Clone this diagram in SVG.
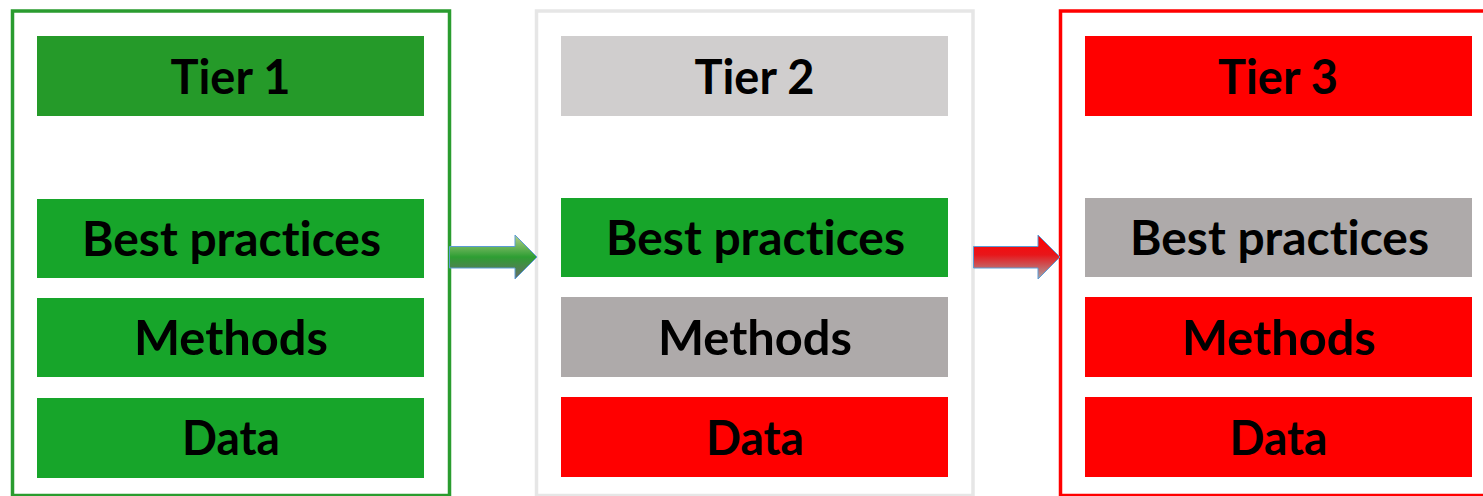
<svg xmlns="http://www.w3.org/2000/svg" width="1483" height="496" viewBox="0 0 1483 496">
<defs>
<style>
.frame{fill:#ffffff;stroke-width:3.5}
.lbl{font-family:Lato,"Open Sans","Liberation Sans",sans-serif;font-weight:bold;font-size:48px;fill:#000000;text-anchor:middle;font-variant-ligatures:none}
.g1{fill:#259A29}
.g{fill:#17A52A}
.gr{fill:#AEAAAA}
.lg{fill:#D0CECE}
.r{fill:#FF0000}
.arrow{stroke:#5B9BD5;stroke-width:1}
</style>
<linearGradient id="gradGreen" x1="0" y1="0" x2="0" y2="1">
<stop offset="0" stop-color="#B5CF8A"/>
<stop offset="0.5" stop-color="#2E9E33"/>
<stop offset="1" stop-color="#6A6A6A"/>
</linearGradient>
<linearGradient id="gradRed" x1="0" y1="0" x2="0" y2="1">
<stop offset="0" stop-color="#FF0000"/>
<stop offset="0.45" stop-color="#E8161A"/>
<stop offset="1" stop-color="#A6A6A6"/>
</linearGradient>
</defs>
<rect width="1483" height="496" fill="#ffffff"/>

<g id="tier1-frame">
<rect class="frame" x="12.5" y="11" width="437" height="484.5" stroke="#2A9C2F"/>
</g>
<g id="tier2-frame">
<rect class="frame" x="536.5" y="11" width="436.5" height="484.5" stroke="#E6E6E6"/>
</g>
<g id="tier3-frame">
<rect class="frame" x="1060.5" y="11" width="440" height="484.5" stroke="#FF0000"/>
</g>

<g id="tier1-title"><rect class="g1" x="37" y="36" width="387" height="80"/><text class="lbl" x="230.5" y="94" textLength="120" lengthAdjust="spacingAndGlyphs">Tier 1</text></g>
<g id="tier1-best"><rect class="g" x="37" y="199" width="387" height="79"/><text class="lbl" x="231.5" y="256" textLength="299" lengthAdjust="spacingAndGlyphs">Best practices</text></g>
<g id="tier1-methods"><rect class="g" x="37" y="298" width="387" height="79"/><text class="lbl" x="231" y="355" textLength="194" lengthAdjust="spacingAndGlyphs">Methods</text></g>
<g id="tier1-data"><rect class="g" x="37" y="398" width="387" height="80"/><text class="lbl" x="231" y="455" textLength="98" lengthAdjust="spacingAndGlyphs">Data</text></g>

<g id="tier2-title"><rect class="lg" x="561" y="36" width="387" height="80"/><text class="lbl" x="754.5" y="94" textLength="120" lengthAdjust="spacingAndGlyphs">Tier 2</text></g>
<g id="tier2-best"><rect class="g" x="561" y="198" width="387" height="79"/><text class="lbl" x="755.5" y="255" textLength="299" lengthAdjust="spacingAndGlyphs">Best practices</text></g>
<g id="tier2-methods"><rect class="gr" x="561" y="297" width="387" height="80"/><text class="lbl" x="755" y="355" textLength="194" lengthAdjust="spacingAndGlyphs">Methods</text></g>
<g id="tier2-data"><rect class="r" x="561" y="397" width="387" height="80"/><text class="lbl" x="755" y="455" textLength="98" lengthAdjust="spacingAndGlyphs">Data</text></g>

<g id="tier3-title"><rect class="r" x="1085" y="36" width="387" height="80"/><text class="lbl" x="1278" y="94" textLength="120" lengthAdjust="spacingAndGlyphs">Tier 3</text></g>
<g id="tier3-best"><rect class="gr" x="1085" y="198" width="387" height="79"/><text class="lbl" x="1279.5" y="255" textLength="299" lengthAdjust="spacingAndGlyphs">Best practices</text></g>
<g id="tier3-methods"><rect class="r" x="1085" y="297" width="387" height="80"/><text class="lbl" x="1279" y="355" textLength="194" lengthAdjust="spacingAndGlyphs">Methods</text></g>
<g id="tier3-data"><rect class="r" x="1085" y="397" width="387" height="80"/><text class="lbl" x="1278.5" y="455" textLength="98" lengthAdjust="spacingAndGlyphs">Data</text></g>

<g id="connectors">
<path class="arrow" fill="url(#gradGreen)" d="M449.5,246.5 H515 V235 L537,257 L515,279 V268 H449.5 Z"/>
<path class="arrow" fill="url(#gradRed)" d="M973.5,246.5 H1038 V235 L1060,257 L1038,279 V268 H973.5 Z"/>
</g>
</svg>
